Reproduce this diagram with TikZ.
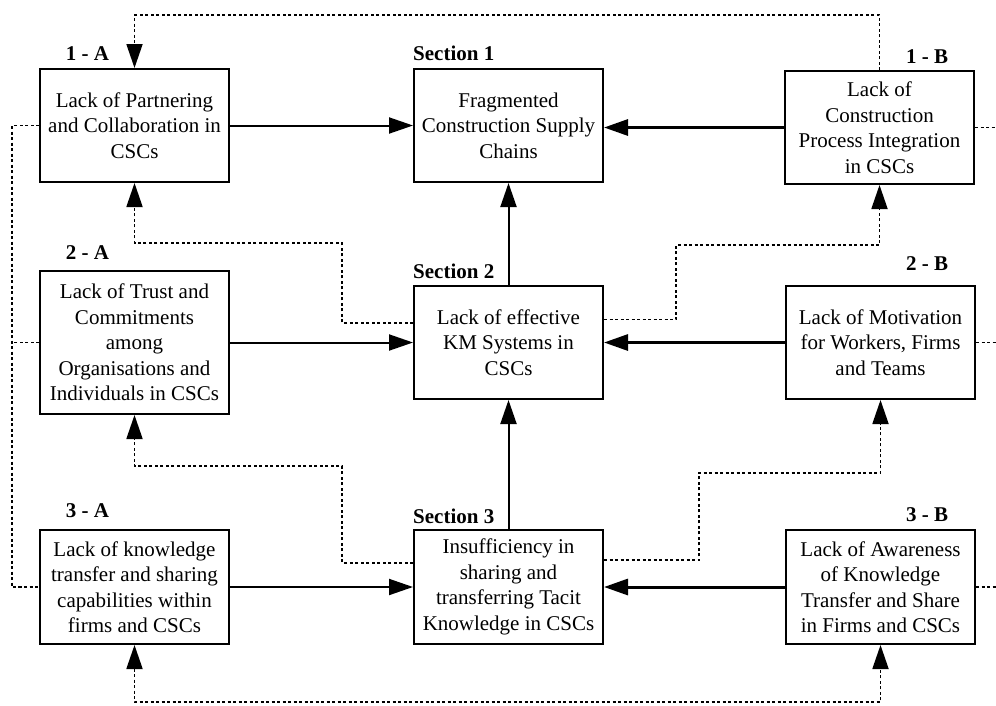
\documentclass[tikz,border=0pt]{standalone}
\usepackage{fontspec}
\setmainfont{Liberation Serif}
\usetikzlibrary{arrows.meta,calc}
\begin{document}
\begin{tikzpicture}[x=1pt,y=-1pt,
  boxst/.style={draw,line width=2pt,minimum width=189pt,align=center,inner sep=0pt,
    font=\fontsize{21}{25.5}\selectfont},
  lab/.style={anchor=base,font=\fontsize{21}{25}\selectfont\bfseries,inner sep=0pt},
  tip/.style={-{Triangle[length=24pt,width=16pt]}},
  thin/.style={line width=2pt,tip},
  thick/.style={line width=3pt,tip},
  dotln/.style={line width=1.8pt,dash pattern=on 3pt off 2.5pt}
]
\useasboundingbox (0,0) rectangle (996,705);
\fill[white] (0,0) rectangle (996,705);
% boxes
\node[boxst,minimum height=113pt] (A1) at (134.5,125.5) {Lack of Partnering\\and Collaboration in\\CSCs};
\node[boxst,minimum height=113pt] (S1) at (508.5,125.5) {Fragmented\\Construction Supply\\Chains};
\node[boxst,minimum height=113pt] (B1) at (879.5,127.5) {Lack of\\Construction\\Process Integration\\in CSCs};
\node[boxst,minimum height=143pt] (A2) at (134.5,342.5) {Lack of Trust and\\Commitments\\among\\Organisations and\\Individuals in CSCs};
\node[boxst,minimum height=113pt] (S2) at (508.5,342.5) {Lack of effective\\KM Systems in\\CSCs};
\node[boxst,minimum height=113pt] (B2) at (880.5,342.5) {Lack of Motivation\\for Workers, Firms\\and Teams};
\node[boxst,minimum height=114pt] (A3) at (134.5,587) {Lack of knowledge\\transfer and sharing\\capabilities within\\firms and CSCs};
\node[boxst,minimum height=114pt] (S3) at (508.5,587) {Insufficiency in\\sharing and\\transferring Tacit\\Knowledge in CSCs};
\node[boxst,minimum height=114pt] (B3) at (880.5,587) {Lack of Awareness\\of Knowledge\\Transfer and Share\\in Firms and CSCs};
% labels
\node[lab] (lA1) at (87.5,60) {1 - A};
\node[lab,anchor=base west] (lS1) at (413,60) {Section 1};
\node[lab] (lB1) at (927,63) {1 - B};
\node[lab] (lA2) at (87.5,259) {2 - A};
\node[lab,anchor=base west] (lS2) at (413,278) {Section 2};
\node[lab] (lB2) at (927,270) {2 - B};
\node[lab] (lA3) at (87.5,517) {3 - A};
\node[lab,anchor=base west] (lS3) at (413,523) {Section 3};
\node[lab] (lB3) at (927,521) {3 - B};
% solid arrows
\draw[thin] (A1.east) -- (S1.west);
\draw[thick] (B1.west) -- (S1.east |- B1.west);
\draw[thin] (S2.north) -- (S1.south);
\draw[thin] (A2.east) -- (S2.west);
\draw[thick] (B2.west) -- (S2.east);
\draw[thin] (S3.north) -- (S2.south);
\draw[thin] (A3.east) -- (S3.west);
\draw[thick] (B3.west) -- (S3.east);
% helper coordinates
\coordinate (top) at (0,15);
\coordinate (leftx) at (12,0);
\coordinate (rightx) at (997,0);
\coordinate (bot) at (0,702);
\coordinate (s2l) at ($(S2.north west)!0.33!(S2.south west)$);
\coordinate (s2r) at ($(S2.north east)!0.30!(S2.south east)$);
\coordinate (s3l) at ($(S3.north west)!0.29!(S3.south west)$);
\coordinate (s3r) at ($(S3.north east)!0.27!(S3.south east)$);
\coordinate (k1) at (342,243);
\coordinate (k2) at (676,245);
\coordinate (k3) at (342,466);
\coordinate (k4) at (699,473);
% dotted connectors
\draw[dotln,tip] (B1.north) -- (B1.north |- top) -- (A1.north |- top) -- (A1.north);
\draw[dotln] (A1.west) -- (A1.west -| leftx) -- (A3.west -| leftx) -- (A3.west);
\draw[dotln] (A2.west) -- (A2.west -| leftx);
\draw[dotln] (B1.east) -- (B1.east -| rightx);
\draw[dotln] (B2.east) -- (B2.east -| rightx);
\draw[dotln] (B3.east) -- (B3.east -| rightx);
\draw[dotln,tip] (s2l) -| (k1) -| (A1.south);
\draw[dotln,tip] (s2r) -| (k2) -| (B1.south);
\draw[dotln,tip] (s3l) -| (k3) -| (A2.south);
\draw[dotln,tip] (s3r) -| (k4) -| (B2.south);
\draw[dotln,{Triangle[length=24pt,width=16pt]}-{Triangle[length=24pt,width=16pt]}] (A3.south) -- (A3.south |- bot) -- (B3.south |- bot) -- (B3.south);
\end{tikzpicture}
\end{document}
